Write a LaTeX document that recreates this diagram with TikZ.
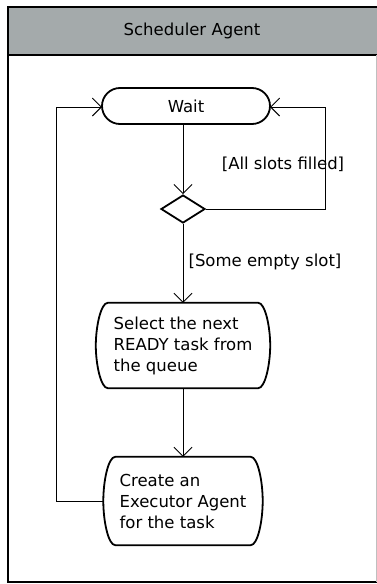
\documentclass[tikz,border=0pt]{standalone}
\usepackage{fontspec}
\setmainfont{DejaVu Sans}
\usetikzlibrary{arrows.meta,shapes.misc,shapes.geometric}
\definecolor{hdr}{HTML}{A4AAAB}
\newcommand\actoutline[1]{%
  \draw[line width=1.8pt]
    ([xshift=12pt]#1.north west) -- ([xshift=-12pt]#1.north east)
    .. controls ([xshift=-5pt]#1.north east) and ([yshift=-24pt]#1.north east) .. (#1.east)
    .. controls ([yshift=24pt]#1.south east) and ([xshift=-5pt]#1.south east) .. ([xshift=-12pt]#1.south east)
    -- ([xshift=12pt]#1.south west)
    .. controls ([xshift=5pt]#1.south west) and ([yshift=24pt]#1.south west) .. (#1.west)
    .. controls ([yshift=-24pt]#1.north west) and ([xshift=5pt]#1.north west) .. ([xshift=12pt]#1.north west) -- cycle;}
\begin{document}
\begin{tikzpicture}[x=1pt,y=-1pt,
  font=\fontsize{16.5}{21}\selectfont,
  act/.style={rectangle,inner sep=0pt},
  flow/.style={line width=1pt,-{Straight Barb[length=9pt,width=18pt,line width=0.9pt]}},
  plain/.style={line width=1pt}]
\useasboundingbox (0,0) rectangle (377,584);
\fill[white] (0,0) rectangle (377,584);
% frame
\node[draw=none,fill=hdr,minimum width=369pt,minimum height=48pt,anchor=north west,inner sep=0pt] (hdr) at (8,7) {};
\draw[line width=2pt] (377,7) -- (8,7) -- (8,582) -- (377,582);
\draw[line width=2.4pt] (8,55) -- (377,55);
\draw[gray!50,line width=0.8pt] (376.5,55) -- (376.5,582);
\node (title) at (192,31) {Scheduler Agent};
% nodes
\node[draw,line width=1.8pt,rounded rectangle,minimum width=168pt,minimum height=36pt,inner sep=0pt] (wait) at (186,106) {Wait};
\node[draw,line width=1.8pt,diamond,minimum width=44pt,minimum height=28pt,inner sep=0pt,aspect=1.6] (dec) at (183,209) {};
\node[act,minimum width=174pt,minimum height=85pt,align=left] (sel) at (183,345.5) {Select the next\\READY task from\\the queue};
\node[act,minimum width=159pt,minimum height=88pt,align=left] (cre) at (183,501) {Create an\\Executor Agent\\for the task};
\actoutline{sel}
\actoutline{cre}
% connectors
\coordinate (wl) at (102,107);
\coordinate (wr) at (270,107);
\coordinate (lc) at (56,107);
\coordinate (rc) at (325,107);
\draw[flow] (183,124) -- (dec.north);
\draw[plain] (dec.east) -- (325,209) -- (rc);
\draw[flow] (rc) -- (wr);
\draw[flow] (dec.south) -- (sel.north);
\draw[flow] (sel.south) -- (cre.north);
\draw[plain] (cre.west) -- (56,501) -- (lc);
\draw[flow] (lc) -- (wl);
\node[anchor=center] (lab1) at (283,164) {[All slots filled]};
\node[anchor=center] (lab2) at (265,262) {[Some empty slot]};
\end{tikzpicture}
\end{document}
